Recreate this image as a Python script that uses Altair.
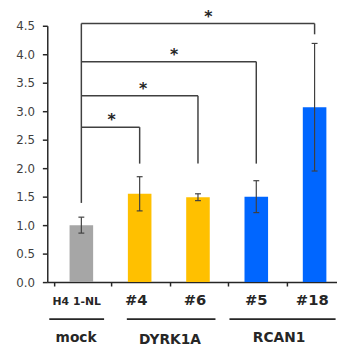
import altair as alt
import pandas as pd

# ---- data ----
categories = ["H4 1-NL", "#4", "#6", "#5", "#18"]
cat_pos = [0, 1, 2, 3, 4]
means = [1.00, 1.55, 1.49, 1.50, 3.07]
errors = [0.14, 0.30, 0.06, 0.28, 1.12]
bar_colors = ["#A6A6A6", "#FFC000", "#FFC000", "#0066FF", "#0066FF"]
label_pos = [-0.08, 0.94, 1.95, 3.0, 3.96]
label_sizes = [11, 15, 15, 15, 15]
label_y = [-0.41, -0.41, -0.41, -0.41, -0.41]

groups = ["mock", "DYRK1A", "RCAN1"]
group_pos = [-0.09, 1.52, 3.39]
group_y = [-1.05, -1.085, -1.06]
group_line_start = [-0.55, 0.78, 2.54]
group_line_end = [0.39, 2.30, 4.36]

# significance brackets: from mock (pos 0) to target
bracket_targets = [1, 2, 3, 4]
bracket_levels = [2.72, 3.27, 3.87, 4.54]
bracket_drop_to = [2.08, 2.08, 2.08, 4.35]
bracket_left_bottom = 1.39
star_pos = [0.52, 1.06, 1.59, 2.18]

y_ticks = [0, 0.5, 1.0, 1.5, 2.0, 2.5, 3.0, 3.5, 4.0, 4.5]
x_ticks = [-0.47, 0.51, 1.52, 2.51, 3.52]

# ---- tables ----
bars = pd.DataFrame({
    "cat": categories, "x": cat_pos, "mean": means,
    "lo": [m - e for m, e in zip(means, errors)],
    "hi": [m + e for m, e in zip(means, errors)],
    "color": bar_colors,
})
labels = pd.DataFrame({"text": categories, "x": label_pos, "size": label_sizes, "y": label_y})
grp = pd.DataFrame({"text": groups, "x": group_pos, "x1": group_line_start, "x2": group_line_end,
                    "ly": [-0.65] * 3, "ty": group_y})
hbr = pd.DataFrame({"x": [0] * 4, "x2": bracket_targets, "y": bracket_levels})
vbr = pd.DataFrame({"x": bracket_targets + [0], "y": bracket_drop_to + [bracket_left_bottom],
                    "y2": bracket_levels + [max(bracket_levels)]})
stars = pd.DataFrame({"x": star_pos, "y": bracket_levels, "t": ["*"] * 4})

xscale = alt.Scale(domain=[-0.5, 4.3], nice=False, zero=False)
yscale = alt.Scale(domain=[0, 4.5], nice=False, zero=False)

X = lambda f="x": alt.X(f"{f}:Q", scale=xscale, axis=alt.Axis(
    values=x_ticks, labels=False, title=None, grid=False, tickSize=4,
    domainColor="#262626", tickColor="#262626", domainWidth=1.5, tickWidth=1.5))
Y = lambda f: alt.Y(f"{f}:Q", scale=yscale, axis=alt.Axis(
    values=y_ticks, format=".1f", title=None, grid=False, tickSize=5,
    labelFont="DejaVu Sans", labelFontSize=12, labelColor="#404040", labelPadding=8,
    domainColor="#262626", tickColor="#262626", domainWidth=1.5, tickWidth=1.5))

bar_layer = alt.Chart(bars).mark_bar(size=24).encode(
    x=X(), y=Y("mean"), color=alt.Color("color:N", scale=None))
err = alt.Chart(bars).mark_rule(color="#404040", strokeWidth=1.2).encode(
    x=X(), y=Y("lo"), y2="hi")
cap_lo = alt.Chart(bars).mark_rule(color="#404040", strokeWidth=1.2, xOffset=-3, x2Offset=3).encode(
    x=X(), x2="x", y=Y("lo"))
cap_hi = alt.Chart(bars).mark_rule(color="#404040", strokeWidth=1.2, xOffset=-3, x2Offset=3).encode(
    x=X(), x2="x", y=Y("hi"))

h_layer = alt.Chart(hbr).mark_rule(color="#404040", strokeWidth=1.5).encode(
    x=X(), x2="x2", y=Y("y"))
v_layer = alt.Chart(vbr).mark_rule(color="#404040", strokeWidth=1.5).encode(
    x=X(), y=Y("y"), y2="y2")
star_layer = alt.Chart(stars).mark_text(font="DejaVu Sans", fontSize=16, fontWeight="bold",
                                        baseline="alphabetic", color="#262626", dy=-2).encode(
    x=X(), y=Y("y"), text="t:N")

lab_layer = alt.Chart(labels).mark_text(font="DejaVu Sans", fontWeight="bold", color="#262626",
                                        baseline="alphabetic").encode(
    x=X(), y=Y("y"), text="text:N", size=alt.Size("size:Q", scale=None, legend=None))
grp_line = alt.Chart(grp).mark_rule(color="#262626", strokeWidth=2).encode(
    x=X("x1"), x2="x2", y=Y("ly"))
grp_text = alt.Chart(grp).mark_text(font="DejaVu Sans", fontWeight="bold", fontSize=14,
                                    color="#262626", baseline="alphabetic").encode(
    x=X(), y=Y("ty"), text="text:N")

chart = alt.layer(
    h_layer, v_layer, bar_layer, err, cap_lo, cap_hi, star_layer, lab_layer, grp_line, grp_text
).properties(
    width=295, height=261,
    autosize=alt.AutoSizeParams(type="none"),
    padding={"left": 40, "top": 15, "right": 0, "bottom": 63},
).configure_view(stroke=None).configure_text(fontSize=15)

chart.save("out.html", embed_options={"renderer": "svg", "actions": False})
